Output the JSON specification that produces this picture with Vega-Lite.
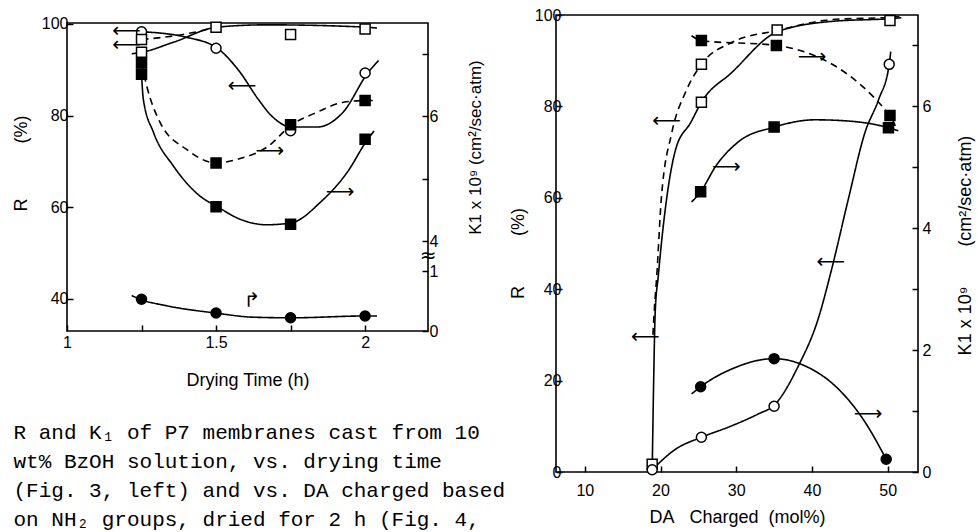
{
  "$schema": "https://vega.github.io/schema/vega-lite/v6.json",
  "padding": {"left": 11, "top": 6, "right": 0, "bottom": 0},
  "background": "white",
  "spacing": 23,
  "config": {
    "view": {"stroke": "black", "strokeWidth": 1.6},
    "axis": {
      "grid": false, "domain": false, "tickColor": "black", "tickSize": -6, "tickWidth": 1.5,
      "labelFont": "Liberation Sans", "labelFontSize": 16, "labelColor": "black",
      "titleFont": "Liberation Sans", "titleFontSize": 18, "titleFontWeight": "normal", "titleColor": "black"
    }
  },
  "title": {
    "text": [
      "R and K₁ of P7 membranes cast from 10",
      "wt% BzOH solution, vs. drying time",
      "(Fig. 3, left) and vs. DA charged based",
      "on NH₂ groups, dried for 2 h (Fig. 4,"
    ],
    "orient": "bottom", "anchor": "start", "font": "Liberation Mono", "fontSize": 21,
    "fontWeight": "normal", "lineHeight": 29, "offset": -105, "dx": 2, "color": "black"
  },
  "datasets": {
    "LR": [
      {"s":"circ","k":"c","d":"s","x":1.25,"v":98.3},{"s":"circ","k":"c","d":"s","x":1.40,"v":97.1},{"s":"circ","k":"c","d":"s","x":1.504,"v":94.7},{"s":"circ","k":"c","d":"s","x":1.58,"v":89.5},{"s":"circ","k":"c","d":"s","x":1.64,"v":83.7},{"s":"circ","k":"c","d":"s","x":1.69,"v":79.7},{"s":"circ","k":"c","d":"s","x":1.754,"v":77.5},{"s":"circ","k":"c","d":"s","x":1.838,"v":77.5},{"s":"circ","k":"c","d":"s","x":1.927,"v":80.8},{"s":"circ","k":"c","d":"s","x":2.009,"v":89.3},{"s":"circ","k":"c","d":"s","x":2.045,"v":92.0},
      {"s":"sqS","k":"c","d":"s","x":1.217,"v":93.5},{"s":"sqS","k":"c","d":"s","x":1.25,"v":93.8},{"s":"sqS","k":"c","d":"s","x":1.357,"v":96.0},{"s":"sqS","k":"c","d":"s","x":1.504,"v":99.3},{"s":"sqS","k":"c","d":"s","x":1.67,"v":99.8},{"s":"sqS","k":"c","d":"s","x":2.0,"v":99.3},{"s":"sqS","k":"c","d":"s","x":2.04,"v":99.1},
      {"s":"sqD","k":"c","d":"d","x":1.25,"v":96.6},{"s":"sqD","k":"c","d":"d","x":1.38,"v":97.6},{"s":"sqD","k":"c","d":"d","x":1.504,"v":99.3},
      {"k":"p","m":"circle","f":"open","x":1.25,"v":98.3},{"k":"p","m":"circle","f":"open","x":1.5,"v":94.7},{"k":"p","m":"circle","f":"open","x":1.75,"v":76.7},{"k":"p","m":"circle","f":"open","x":2.0,"v":89.3},
      {"k":"p","m":"square","f":"open","x":1.25,"v":96.6},{"k":"p","m":"square","f":"open","x":1.25,"v":93.8},{"k":"p","m":"square","f":"open","x":1.5,"v":99.3},{"k":"p","m":"square","f":"open","x":1.75,"v":97.7},{"k":"p","m":"square","f":"open","x":2.0,"v":98.9},
      {"k":"a","t":"⟵","x":1.20,"v":98.4},{"k":"a","t":"⟵","x":1.20,"v":95.5},{"k":"a","t":"⟵","x":1.587,"v":86.5}
    ],
    "LK": [
      {"s":"fsqS","k":"c","d":"s","x":1.25,"v":6.67},{"s":"fsqS","k":"c","d":"s","x":1.256,"v":6.27},{"s":"fsqS","k":"c","d":"s","x":1.29,"v":5.74},{"s":"fsqS","k":"c","d":"s","x":1.357,"v":5.20},{"s":"fsqS","k":"c","d":"s","x":1.446,"v":4.72},{"s":"fsqS","k":"c","d":"s","x":1.504,"v":4.55},{"s":"fsqS","k":"c","d":"s","x":1.58,"v":4.35},{"s":"fsqS","k":"c","d":"s","x":1.67,"v":4.26},{"s":"fsqS","k":"c","d":"s","x":1.752,"v":4.29},{"s":"fsqS","k":"c","d":"s","x":1.85,"v":4.62},{"s":"fsqS","k":"c","d":"s","x":1.94,"v":5.10},{"s":"fsqS","k":"c","d":"s","x":2.009,"v":5.63},{"s":"fsqS","k":"c","d":"s","x":2.03,"v":5.76},
      {"s":"fsqD","k":"c","d":"d","x":1.25,"v":6.85},{"s":"fsqD","k":"c","d":"d","x":1.267,"v":6.49},{"s":"fsqD","k":"c","d":"d","x":1.312,"v":5.90},{"s":"fsqD","k":"c","d":"d","x":1.40,"v":5.47},{"s":"fsqD","k":"c","d":"d","x":1.50,"v":5.25},{"s":"fsqD","k":"c","d":"d","x":1.58,"v":5.32},{"s":"fsqD","k":"c","d":"d","x":1.67,"v":5.50},{"s":"fsqD","k":"c","d":"d","x":1.754,"v":5.86},{"s":"fsqD","k":"c","d":"d","x":1.838,"v":6.06},{"s":"fsqD","k":"c","d":"d","x":1.927,"v":6.22},{"s":"fsqD","k":"c","d":"d","x":2.005,"v":6.25},{"s":"fsqD","k":"c","d":"d","x":2.04,"v":6.25},
      {"s":"fcirc","k":"c","d":"s","x":1.217,"v":0.59},{"s":"fcirc","k":"c","d":"s","x":1.245,"v":0.53},{"s":"fcirc","k":"c","d":"s","x":1.335,"v":0.42},{"s":"fcirc","k":"c","d":"s","x":1.497,"v":0.30},{"s":"fcirc","k":"c","d":"s","x":1.625,"v":0.23},{"s":"fcirc","k":"c","d":"s","x":1.754,"v":0.22},{"s":"fcirc","k":"c","d":"s","x":2.0,"v":0.25},{"s":"fcirc","k":"c","d":"s","x":2.04,"v":0.25},
      {"k":"p","m":"square","f":"filled","x":1.25,"v":6.67},{"k":"p","m":"square","f":"filled","x":1.25,"v":6.85},{"k":"p","m":"square","f":"filled","x":1.5,"v":4.55},{"k":"p","m":"square","f":"filled","x":1.5,"v":5.25},{"k":"p","m":"square","f":"filled","x":1.75,"v":4.27},{"k":"p","m":"square","f":"filled","x":1.75,"v":5.86},{"k":"p","m":"square","f":"filled","x":2.0,"v":5.63},{"k":"p","m":"square","f":"filled","x":2.0,"v":6.25},
      {"k":"p","m":"circle","f":"filled","x":1.25,"v":0.53},{"k":"p","m":"circle","f":"filled","x":1.5,"v":0.30},{"k":"p","m":"circle","f":"filled","x":1.75,"v":0.22},{"k":"p","m":"circle","f":"filled","x":2.0,"v":0.25},
      {"k":"a","t":"⟶","x":1.68,"v":5.44},{"k":"a","t":"⟶","x":1.916,"v":4.78},{"k":"a","t":"↱","x":1.62,"v":0.5},{"k":"a","t":"≈","x":2.211,"v":2.5}
    ],
    "RR": [
      {"s":"sqD","k":"c","d":"d","x":19.0,"v":30},{"s":"sqD","k":"c","d":"d","x":19.2,"v":36},{"s":"sqD","k":"c","d":"d","x":19.5,"v":42.8},{"s":"sqD","k":"c","d":"d","x":20.1,"v":59.7},{"s":"sqD","k":"c","d":"d","x":21.5,"v":74.3},{"s":"sqD","k":"c","d":"d","x":23.3,"v":83.1},{"s":"sqD","k":"c","d":"d","x":25.4,"v":89.2},{"s":"sqD","k":"c","d":"d","x":29.4,"v":94.0},{"s":"sqD","k":"c","d":"d","x":35.4,"v":96.6},{"s":"sqD","k":"c","d":"d","x":42.6,"v":99.0},{"s":"sqD","k":"c","d":"d","x":50.3,"v":99.5},{"s":"sqD","k":"c","d":"d","x":51.8,"v":99.7},
      {"s":"sqS","k":"c","d":"s","x":18.9,"v":0},{"s":"sqS","k":"c","d":"s","x":19.1,"v":20.3},{"s":"sqS","k":"c","d":"s","x":19.3,"v":35},{"s":"sqS","k":"c","d":"s","x":19.7,"v":42.8},{"s":"sqS","k":"c","d":"s","x":20.8,"v":59.7},{"s":"sqS","k":"c","d":"s","x":22.0,"v":70.6},{"s":"sqS","k":"c","d":"s","x":24.0,"v":76.5},{"s":"sqS","k":"c","d":"s","x":25.4,"v":80.9},{"s":"sqS","k":"c","d":"s","x":29.4,"v":87.4},{"s":"sqS","k":"c","d":"s","x":35.4,"v":96.3},{"s":"sqS","k":"c","d":"s","x":42.6,"v":98.6},{"s":"sqS","k":"c","d":"s","x":50.3,"v":99.2},{"s":"sqS","k":"c","d":"s","x":51.8,"v":99.4},
      {"s":"circ","k":"c","d":"s","x":18.9,"v":0.5},{"s":"circ","k":"c","d":"s","x":22.0,"v":5.0},{"s":"circ","k":"c","d":"s","x":25.4,"v":7.6},{"s":"circ","k":"c","d":"s","x":29.4,"v":10.1},{"s":"circ","k":"c","d":"s","x":32.9,"v":12.7},{"s":"circ","k":"c","d":"s","x":35.0,"v":14.6},{"s":"circ","k":"c","d":"s","x":38.2,"v":23.2},{"s":"circ","k":"c","d":"s","x":40.8,"v":33.4},{"s":"circ","k":"c","d":"s","x":42.6,"v":44.4},{"s":"circ","k":"c","d":"s","x":44.8,"v":59.7},{"s":"circ","k":"c","d":"s","x":47.0,"v":74.3},{"s":"circ","k":"c","d":"s","x":48.8,"v":81.5},{"s":"circ","k":"c","d":"s","x":50.2,"v":89.2},{"s":"circ","k":"c","d":"s","x":50.4,"v":92.0},
      {"k":"p","m":"square","f":"open","x":18.9,"v":1.7},{"k":"p","m":"square","f":"open","x":25.4,"v":89.2},{"k":"p","m":"square","f":"open","x":25.4,"v":80.9},{"k":"p","m":"square","f":"open","x":35.4,"v":96.7},{"k":"p","m":"square","f":"open","x":50.3,"v":98.8},
      {"k":"p","m":"circle","f":"open","x":18.9,"v":0.5},{"k":"p","m":"circle","f":"open","x":25.4,"v":7.6},{"k":"p","m":"circle","f":"open","x":35.0,"v":14.4},{"k":"p","m":"circle","f":"open","x":50.2,"v":89.2},
      {"k":"a","t":"⟵","x":20.8,"v":76.7},{"k":"a","t":"⟵","x":42.5,"v":46},{"k":"a","t":"⟵","x":18.0,"v":29.6}
    ],
    "RK": [
      {"s":"fsqS","k":"c","d":"s","x":24.1,"v":4.43},{"s":"fsqS","k":"c","d":"s","x":25.3,"v":4.6},{"s":"fsqS","k":"c","d":"s","x":27.3,"v":5.02},{"s":"fsqS","k":"c","d":"s","x":30.3,"v":5.42},{"s":"fsqS","k":"c","d":"s","x":35.0,"v":5.66},{"s":"fsqS","k":"c","d":"s","x":40.4,"v":5.78},{"s":"fsqS","k":"c","d":"s","x":44.8,"v":5.76},{"s":"fsqS","k":"c","d":"s","x":50.1,"v":5.65},{"s":"fsqS","k":"c","d":"s","x":51.4,"v":5.6},
      {"s":"fsqD","k":"c","d":"d","x":24.1,"v":7.16},{"s":"fsqD","k":"c","d":"d","x":25.4,"v":7.08},{"s":"fsqD","k":"c","d":"d","x":35.3,"v":7.0},{"s":"fsqD","k":"c","d":"d","x":50.3,"v":5.85},{"s":"fsqD","k":"c","d":"d","x":51.0,"v":5.68},
      {"s":"fcirc","k":"c","d":"s","x":24.1,"v":1.28},{"s":"fcirc","k":"c","d":"s","x":25.3,"v":1.40},{"s":"fcirc","k":"c","d":"s","x":29.4,"v":1.69},{"s":"fcirc","k":"c","d":"s","x":35.0,"v":1.86},{"s":"fcirc","k":"c","d":"s","x":39.1,"v":1.74},{"s":"fcirc","k":"c","d":"s","x":43.5,"v":1.36},{"s":"fcirc","k":"c","d":"s","x":47.0,"v":0.82},{"s":"fcirc","k":"c","d":"s","x":49.8,"v":0.21},
      {"k":"p","m":"square","f":"filled","x":25.4,"v":7.08},{"k":"p","m":"square","f":"filled","x":35.3,"v":7.0},{"k":"p","m":"square","f":"filled","x":50.3,"v":5.85},{"k":"p","m":"square","f":"filled","x":25.3,"v":4.6},{"k":"p","m":"square","f":"filled","x":35.0,"v":5.66},{"k":"p","m":"square","f":"filled","x":50.1,"v":5.65},
      {"k":"p","m":"circle","f":"filled","x":25.3,"v":1.40},{"k":"p","m":"circle","f":"filled","x":35.0,"v":1.86},{"k":"p","m":"circle","f":"filled","x":49.8,"v":0.21},
      {"k":"a","t":"⟶","x":28.7,"v":5.0},{"k":"a","t":"⟶","x":40.0,"v":6.81},{"k":"a","t":"⟶","x":47.4,"v":0.95}
    ]
  },
  "hconcat": [
    {
      "spacing": 7,
      "bounds": "flush",
      "vconcat": [
        {"width": 361, "height": 1, "data": {"values": []}, "mark": "text", "view": {"stroke": null}},
        {
          "width": 361, "height": 308,
          "encoding": {
            "x": {"field": "x", "type": "quantitative",
              "scale": {"domain": [1, 2.211], "nice": false, "zero": false},
              "axis": {"values": [1, 1.25, 1.5, 1.75, 2], "labelExpr": "datum.value==1.25||datum.value==1.75?'':format(datum.value,'~g')",
                "title": "Drying Time (h)", "labelPadding": 9, "titlePadding": 21, "labelFlush": false}}
          },
          "layer": [
            {
              "data": {"name": "LR"},
              "encoding": {"y": {"field": "v", "type": "quantitative",
                "scale": {"domain": [33, 100.2], "nice": false, "zero": false},
                "axis": {"orient": "left", "values": [40, 60, 80, 100], "title": "R\u00a0\u00a0\u00a0\u00a0\u00a0\u00a0\u00a0\u00a0\u00a0\u00a0\u00a0(%)", "titleY": 140, "labelPadding": 5, "titlePadding": 11}}},
              "layer": [
                {"transform": [{"filter": "datum.k=='c'"}], "mark": {"type": "line", "color": "black", "strokeWidth": 1.6, "interpolate": "monotone"},
                 "encoding": {"detail": {"field": "s"}, "strokeDash": {"field": "d", "type": "nominal", "scale": {"domain": ["s", "d"], "range": [[1, 0], [7, 5]]}, "legend": null}}},
                {"transform": [{"filter": "datum.k=='p'"}], "mark": {"type": "point", "filled": true, "stroke": "black", "strokeWidth": 1.5, "size": 100, "opacity": 1},
                 "encoding": {"shape": {"field": "m", "type": "nominal", "scale": {"domain": ["circle", "square"], "range": ["circle", "square"]}, "legend": null},
                   "fill": {"field": "f", "type": "nominal", "scale": {"domain": ["open", "filled"], "range": ["white", "black"]}, "legend": null}}},
                {"transform": [{"filter": "datum.k=='a'"}], "mark": {"type": "text", "font": "DejaVu Sans", "fontSize": 20, "color": "black"},
                 "encoding": {"text": {"field": "t"}}}
              ]
            },
            {
              "data": {"name": "LK"},
              "encoding": {"y": {"field": "v", "type": "quantitative",
                "scale": {"domain": [0, 1, 4, 7.49], "range": [308, 248, 218, 0], "nice": false, "zero": false},
                "axis": {"orient": "right", "values": [0, 1, 4, 5, 6, 7], "labelExpr": "datum.value==5||datum.value==7?'':datum.label",
                  "title": "K1 x 10⁹ (cm²/sec·atm)", "titleFontSize": 17, "titleAngle": 270, "titleBaseline": "top", "titleY": 124, "labelPadding": 7, "titlePadding": 30}}},
              "layer": [
                {"transform": [{"filter": "datum.k=='c'"}], "mark": {"type": "line", "color": "black", "strokeWidth": 1.6, "interpolate": "monotone"},
                 "encoding": {"detail": {"field": "s"}, "strokeDash": {"field": "d", "type": "nominal", "scale": {"domain": ["s", "d"], "range": [[1, 0], [7, 5]]}, "legend": null}}},
                {"transform": [{"filter": "datum.k=='p'"}], "mark": {"type": "point", "filled": true, "stroke": "black", "strokeWidth": 1.5, "size": 100, "opacity": 1},
                 "encoding": {"shape": {"field": "m", "type": "nominal", "scale": {"domain": ["circle", "square"], "range": ["circle", "square"]}, "legend": null},
                   "fill": {"field": "f", "type": "nominal", "scale": {"domain": ["open", "filled"], "range": ["white", "black"]}, "legend": null}}},
                {"transform": [{"filter": "datum.k=='a'"}], "mark": {"type": "text", "font": "DejaVu Sans", "fontSize": 20, "color": "black"},
                 "encoding": {"text": {"field": "t"}}}
              ]
            }
          ],
          "resolve": {"scale": {"y": "independent"}}
        }
      ]
    },
    {
      "width": 362, "height": 457,
      "encoding": {
        "x": {"field": "x", "type": "quantitative",
          "scale": {"domain": [6.2, 54], "nice": false, "zero": false},
          "axis": {"values": [10, 20, 30, 40, 50], "title": "DA\u00a0\u00a0\u00a0Charged\u00a0\u00a0(mol%)", "labelPadding": 16, "titlePadding": 10}}
      },
      "layer": [
        {
          "data": {"name": "RR"},
          "encoding": {"y": {"field": "v", "type": "quantitative",
            "scale": {"domain": [0, 100], "nice": false, "zero": false},
            "axis": {"orient": "left", "values": [0, 20, 40, 60, 80, 100], "title": "R\u00a0\u00a0\u00a0\u00a0\u00a0\u00a0\u00a0\u00a0\u00a0\u00a0(%)", "titleY": 238, "labelPadding": 1, "titlePadding": 7}}},
          "layer": [
            {"transform": [{"filter": "datum.k=='c'"}], "mark": {"type": "line", "color": "black", "strokeWidth": 1.6, "interpolate": "monotone"},
             "encoding": {"detail": {"field": "s"}, "strokeDash": {"field": "d", "type": "nominal", "scale": {"domain": ["s", "d"], "range": [[1, 0], [7, 5]]}, "legend": null}}},
            {"transform": [{"filter": "datum.k=='p'"}], "mark": {"type": "point", "filled": true, "stroke": "black", "strokeWidth": 1.5, "size": 100, "opacity": 1},
             "encoding": {"shape": {"field": "m", "type": "nominal", "scale": {"domain": ["circle", "square"], "range": ["circle", "square"]}, "legend": null},
               "fill": {"field": "f", "type": "nominal", "scale": {"domain": ["open", "filled"], "range": ["white", "black"]}, "legend": null}}},
            {"transform": [{"filter": "datum.k=='a'"}], "mark": {"type": "text", "font": "DejaVu Sans", "fontSize": 20, "color": "black"},
             "encoding": {"text": {"field": "t"}}}
          ]
        },
        {
          "data": {"name": "RK"},
          "encoding": {"y": {"field": "v", "type": "quantitative",
            "scale": {"domain": [0, 7.5], "nice": false, "zero": false},
            "axis": {"orient": "right", "values": [0, 1, 2, 3, 4, 5, 6, 7], "labelExpr": "datum.value%2==1?'':datum.label",
              "title": "K1 x 10⁹\u00a0\u00a0\u00a0\u00a0\u00a0\u00a0\u00a0\u00a0(cm²/sec·atm)", "titleFontSize": 18, "titleAngle": 270, "titleBaseline": "top", "titleY": 230, "labelPadding": 10, "titlePadding": 26}}},
          "layer": [
            {"transform": [{"filter": "datum.k=='c'"}], "mark": {"type": "line", "color": "black", "strokeWidth": 1.6, "interpolate": "monotone"},
             "encoding": {"detail": {"field": "s"}, "strokeDash": {"field": "d", "type": "nominal", "scale": {"domain": ["s", "d"], "range": [[1, 0], [7, 5]]}, "legend": null}}},
            {"transform": [{"filter": "datum.k=='p'"}], "mark": {"type": "point", "filled": true, "stroke": "black", "strokeWidth": 1.5, "size": 100, "opacity": 1},
             "encoding": {"shape": {"field": "m", "type": "nominal", "scale": {"domain": ["circle", "square"], "range": ["circle", "square"]}, "legend": null},
               "fill": {"field": "f", "type": "nominal", "scale": {"domain": ["open", "filled"], "range": ["white", "black"]}, "legend": null}}},
            {"transform": [{"filter": "datum.k=='a'"}], "mark": {"type": "text", "font": "DejaVu Sans", "fontSize": 20, "color": "black"},
             "encoding": {"text": {"field": "t"}}}
          ]
        }
      ],
      "resolve": {"scale": {"y": "independent"}}
    }
  ]
}
